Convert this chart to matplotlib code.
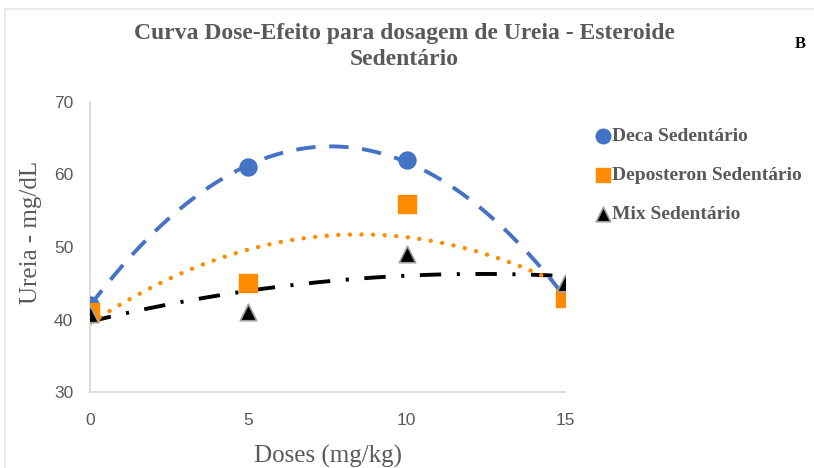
import matplotlib.pyplot as plt
from matplotlib.patches import Rectangle
import numpy as np

doses = [0, 5, 10, 15]
deca = [42, 61, 62, 43]
deposteron = [41, 45, 56, 43]
mix = [40.7, 41, 49, 45]

blue = '#4472C4'
orange = '#FF8C00'
gray = '#595959'
axis_gray = '#D9D9D9'

serif = ['Liberation Serif', 'DejaVu Serif']
sans = ['Liberation Sans Narrow', 'Liberation Sans', 'DejaVu Sans']

fig = plt.figure(figsize=(8.14, 4.68), dpi=100)
ax = fig.add_axes([90 / 814, 1 - 392 / 468, 475 / 814, 290 / 468])

# polynomial trendlines (order 2)
xs = np.linspace(0, 15, 200)
trend = {}
for name, ys in [('deca', deca), ('depo', deposteron), ('mix', mix)]:
    trend[name] = np.polyval(np.polyfit(doses, ys, 2), xs)

ax.plot(xs, trend['mix'], color='black', lw=2.8, dashes=[5.5, 4, 0.8, 4], zorder=2)
ax.plot(xs, trend['depo'], color=orange, lw=3.2, dashes=[0.01, 2.6],
        dash_capstyle='round', zorder=2)
ax.plot(xs, trend['deca'], color=blue, lw=2.8, dashes=[5, 3.5], zorder=2)

ax.scatter(doses, deca, marker='o', s=150, color=blue, zorder=3, label='Deca Sedentário')
ax.scatter(doses, deposteron, marker='s', s=150, color=orange, zorder=4,
           label='Deposteron Sedentário')
ax.scatter(doses, mix, marker='^', s=140, color='black', edgecolors='#A0A0A0',
           linewidths=1.2, zorder=5, label='Mix Sedentário')

ax.set_xlim(0, 15)
ax.set_ylim(30, 70)
ax.set_xticks([0, 5, 10, 15])
ax.set_yticks([30, 40, 50, 60, 70])
for s in ['top', 'right']:
    ax.spines[s].set_visible(False)
for s in ['left', 'bottom']:
    ax.spines[s].set_color(axis_gray)
    ax.spines[s].set_linewidth(1.2)
ax.tick_params(axis='y', length=0, pad=12, labelsize=12.5, labelcolor=gray)
ax.tick_params(axis='x', length=0, pad=15, labelsize=12.5, labelcolor=gray)
for lab in ax.get_xticklabels() + ax.get_yticklabels():
    lab.set_family(sans)

ax.set_xlabel('Doses (mg/kg)', family=serif, fontsize=18, color=gray, labelpad=12)
ax.set_ylabel('Ureia - mg/dL', family=serif, fontsize=18, color=gray)
ax.yaxis.set_label_coords(-0.10, 0.55)

fig.text(0.497, 0.95, 'Curva Dose-Efeito para dosagem de Ureia - Esteroide\nSedentário',
         ha='center', va='top', family=serif, fontsize=17, fontweight='bold',
         color=gray, linespacing=1.3)
fig.text(0.983, 0.905, 'B', ha='center', va='center', family=serif,
         fontsize=12, fontweight='bold', color='black')

leg = fig.legend(loc='upper left', bbox_to_anchor=(586 / 814, 1 - 120 / 468),
                 frameon=False, handletextpad=0.05, handlelength=0.9,
                 labelspacing=1.1, borderaxespad=0,
                 prop={'family': serif, 'weight': 'bold', 'size': 14})
for t in leg.get_texts():
    t.set_color(gray)
for h in leg.legend_handles:
    h.set_sizes([110])

fig.patches.append(Rectangle((5 / 814, -0.01), 1.0, 1 - 9 / 468 + 0.01,
                             transform=fig.transFigure, fill=False,
                             edgecolor='#E6E6E6', lw=1.2))

fig.savefig('out.png', dpi=100)
